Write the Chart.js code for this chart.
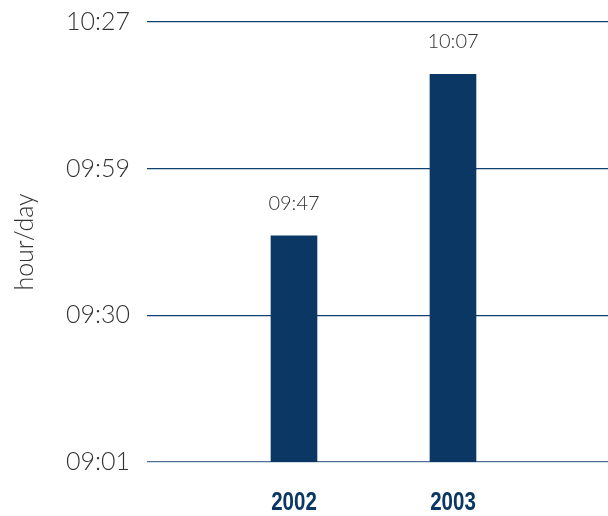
<!DOCTYPE html>
<html>
<head>
<meta charset="utf-8">
<script src="https://cdn.jsdelivr.net/npm/chart.js@4/dist/chart.umd.min.js"></script>
<style>
html,body{margin:0;padding:0;background:#fff;}
#wrap{width:608px;height:516px;position:relative;}
</style>
</head>
<body>
<div id="wrap"><canvas id="c" width="608" height="516"></canvas></div>
<script>
const categories = [2002, 2003];
const values = ['09:47', '10:07'];
const yTickLabels = ['09:01', '09:30', '09:59', '10:27'];
const yAxisTitle = 'hour/day';

const toMin = s => { const p = s.split(':'); return (+p[0]) * 60 + (+p[1]); };
const points = categories.map((c, i) => ({ x: c, y: toMin(values[i]) }));

const BLUE = '#0a3764';
const GRID = '#0f4172';
const BASE = '#52708f';
const TEXT = '#333333';
const LIGHT = "'Lato', 'Open Sans', sans-serif";

const labelPlugin = {
  id: 'valueLabels',
  afterDatasetsDraw(chart) {
    const ctx = chart.ctx;
    const meta = chart.getDatasetMeta(0);
    ctx.save();
    ctx.font = '300 20px ' + LIGHT;
    ctx.fillStyle = TEXT;
    ctx.textAlign = 'center';
    ctx.textBaseline = 'alphabetic';
    meta.data.forEach((el, i) => {
      ctx.fillText(values[i], el.x, el.y - 26);
    });
    ctx.restore();
  }
};

// category labels in a condensed bold face (horizontally narrowed)
const xLabelPlugin = {
  id: 'xLabels',
  afterDraw(chart) {
    const ctx = chart.ctx;
    const xs = chart.scales.x;
    ctx.save();
    ctx.font = "bold 25px 'Liberation Sans', sans-serif";
    ctx.fillStyle = BLUE;
    ctx.textAlign = 'center';
    ctx.textBaseline = 'alphabetic';
    const k = 0.82;
    categories.forEach(c => {
      const px = xs.getPixelForValue(c);
      ctx.save();
      ctx.translate(px, 510);
      ctx.scale(k, 1);
      ctx.fillText(String(c), 0, 0);
      ctx.restore();
    });
    ctx.restore();
  }
};

new Chart(document.getElementById('c'), {
  type: 'bar',
  data: {
    datasets: [{
      data: points,
      backgroundColor: BLUE,
      barThickness: 46,
      borderWidth: 0
    }]
  },
  options: {
    responsive: false,
    animation: false,
    layout: { padding: { top: 22, right: 0, bottom: 0, left: 0 } },
    plugins: { legend: { display: false }, tooltip: { enabled: false } },
    scales: {
      x: {
        type: 'linear',
        offset: false,
        min: 2001.0755,
        max: 2003.975,
        afterBuildTicks: s => { s.ticks = categories.map(v => ({ value: v })); },
        afterFit: s => { s.height = 54; s.paddingLeft = 0; s.paddingRight = 0; },
        grid: { display: false, offset: false },
        border: { display: false },
        ticks: { display: false }
      },
      y: {
        min: 558.99,
        max: 613.48,
        afterBuildTicks: s => {
          const n = yTickLabels.length;
          s.ticks = yTickLabels.map((l, i) => ({ value: s.min + (s.max - s.min) * i / (n - 1) }));
        },
        afterFit: s => { s.width = 147; s.paddingTop = 0; s.paddingBottom = 0; },
        grid: {
          color: c => (c.index === 0 ? BASE : GRID),
          lineWidth: 1.2,
          drawTicks: false
        },
        border: { display: false },
        ticks: {
          padding: 17,
          color: TEXT,
          font: { family: LIGHT, size: 25, weight: '300' },
          callback: (v, i) => yTickLabels[i]
        },
        title: {
          display: true,
          text: yAxisTitle,
          color: TEXT,
          font: { family: LIGHT, size: 25, weight: '300' },
          padding: { top: 10, bottom: 0 }
        }
      }
    }
  },
  plugins: [labelPlugin, xLabelPlugin]
});
</script>
</body>
</html>
